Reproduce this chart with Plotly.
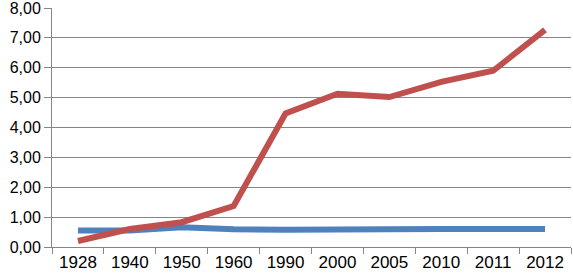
import plotly.graph_objects as go

years = ["1928", "1940", "1950", "1960", "1990", "2000", "2005", "2010", "2011", "2012"]
red_series = [0.20, 0.60, 0.83, 1.37, 4.47, 5.13, 5.02, 5.53, 5.90, 7.27]
blue_series = [0.55, 0.55, 0.66, 0.59, 0.58, 0.57, 0.58, 0.60, 0.60, 0.60]

fig = go.Figure()
fig.add_trace(go.Scatter(x=years, y=blue_series, mode="lines",
                         line=dict(color="#4F81BD", width=6), showlegend=False))
fig.add_trace(go.Scatter(x=years, y=red_series, mode="lines",
                         line=dict(color="#C0504D", width=6), showlegend=False))

fig.update_layout(
    width=573, height=277,
    margin=dict(l=52, r=2, t=8, b=30),
    paper_bgcolor="white", plot_bgcolor="white",
    separators=", ",
    font=dict(family="Liberation Sans, Arial", size=17, color="#000000"),
)
fig.update_xaxes(type="category", range=[-0.5, 9.5], showgrid=False, automargin=False,
                 showline=True, linecolor="#868686", linewidth=1,
                 ticks="outside", tickson="boundaries", ticklen=6, tickcolor="#868686",
                 ticklabeloverflow="allow", tickfont=dict(size=17))
fig.update_yaxes(range=[0, 8], dtick=1, tickformat=".2f", automargin=False,
                 showgrid=True, gridcolor="#868686", gridwidth=1,
                 showline=True, linecolor="#868686", linewidth=1,
                 ticks="outside", ticklen=7, tickcolor="#868686",
                 ticklabeloverflow="allow",
                 zeroline=False, tickfont=dict(size=16))

fig.write_html("out.html", config={"displayModeBar": False},
               post_script="document.body.style.margin='0';document.body.style.padding='0';")
